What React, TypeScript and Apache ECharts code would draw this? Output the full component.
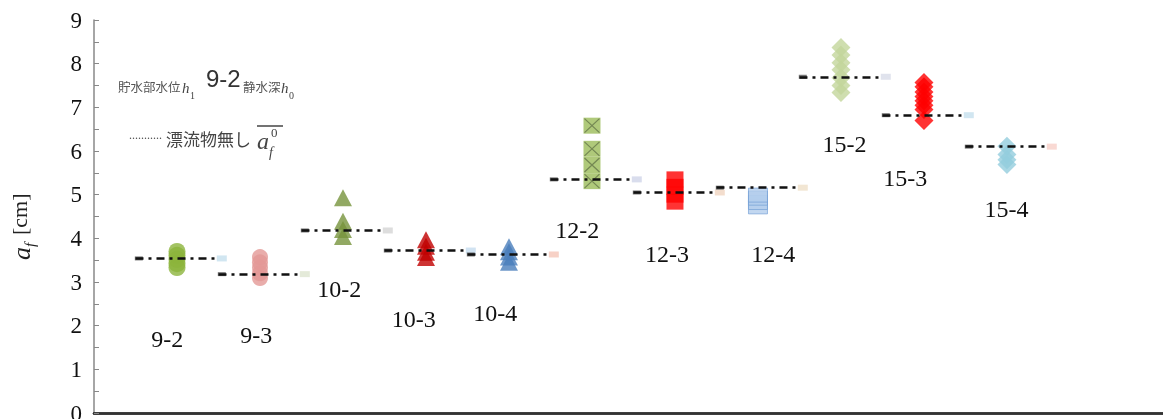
import React, { useEffect, useRef } from "react";
import * as echarts from "echarts";

const categories = ["9-2", "9-3", "10-2", "10-3", "10-4", "12-2", "12-3", "12-4", "15-2", "15-3", "15-4"];
const means = [3.54, 3.18, 4.18, 3.72, 3.63, 5.35, 5.05, 5.16, 7.7, 6.82, 6.1];
const samples = [
  [3.33, 3.42, 3.52, 3.61, 3.7],
  [3.09, 3.2, 3.33, 3.45, 3.57],
  [4.04, 4.2, 4.39, 4.93],
  [3.56, 3.68, 3.82, 3.97],
  [3.45, 3.57, 3.69, 3.81],
  [5.31, 5.68, 6.05, 6.58],
  [4.84, 5.0, 5.18, 5.35],
  [4.72, 4.82, 4.92, 4.99],
  [7.34, 7.5, 7.68, 7.86, 8.02, 8.2, 8.37],
  [6.7, 6.95, 7.05, 7.15, 7.25, 7.35, 7.47, 7.57],
  [5.69, 5.8, 5.92, 6.11],
];
const labelY = [1.68, 1.77, 2.83, 2.13, 2.29, 4.19, 3.62, 3.62, 6.14, 5.37, 4.66];
const labelDx = [-0.11, -0.04, -0.04, -0.14, -0.16, -0.17, -0.09, 0.19, 0.05, -0.22, 0];
const yTicks = [0, 1, 2, 3, 4, 5, 6, 7, 8, 9];

const colors = ["#8cb43c", "#e39896", "#77933c", "#c00000", "#4a7ebb", "#9bbb59", "#ff0000", "#b3cdec", "#c3d69b", "#ff0000", "#93cddd"];
const symbols = ["circle", "circle", "triangle", "triangle", "triangle", "rect", "rect", "rect", "diamond", "diamond", "diamond"];
const symbolSizes: any[] = [17, 16, [18, 17], [18, 17], [18, 17], [17, 16], [17, 16], [19, 14], [19, 19], [19, 19], [19, 19]];
const capColors = ["#c6e0ee", "#dde5cf", "#d4d4d4", "#c6dcef", "#f5c6b8", "#d0d4e8", "#f0d4c0", "#efe0c8", "#d8dce8", "#c6e0ee", "#f8d0c8"];

const SERIF = '"Liberation Serif", "DejaVu Serif", serif';
const CJK = '"Noto Sans CJK JP", sans-serif';

export default function App() {
  const ref = useRef<HTMLDivElement>(null);
  useEffect(() => {
    const chart = echarts.init(ref.current!, null, { renderer: "svg" });
    const sampleSeries = samples.map((vals, i) => ({
      type: "scatter",
      z: 2,
      symbol: symbols[i],
      symbolSize: symbolSizes[i],
      itemStyle:
        i === 7
          ? { color: colors[i], borderColor: "#6f9bd3", borderWidth: 0.8 }
          : { color: colors[i] },
      data: vals.map((v) => [i + 1, v]),
    }));
    const crossSeries = {
      type: "scatter",
      z: 3,
      symbol: "path://M0,0L10,10M10,0L0,10",
      symbolSize: [15, 14],
      itemStyle: { color: "transparent", borderColor: "#66784a", borderWidth: 1.2 },
      data: samples[5].map((v) => [6, v]),
    };
    const rightCaps = {
      type: "scatter",
      z: 4,
      symbol: "rect",
      symbolSize: [10, 6],
      data: means.map((m, i) => ({ value: [i + 1 + 0.54, m], itemStyle: { color: capColors[i] } })),
      markLine: {
        silent: true,
        symbol: ["none", "none"],
        label: { show: false },
        lineStyle: { type: [8, 5, 3, 5], color: "#111", width: 2.5 },
        data: means.map((m, i) => [{ coord: [i + 1 - 0.5, m] }, { coord: [i + 1 + 0.48, m] }]),
        z: 6,
      },
    };
    const leftCaps = {
      type: "scatter",
      z: 5,
      symbol: "rect",
      symbolSize: [8, 4],
      itemStyle: { color: "#555" },
      data: means.map((m, i) => [i + 1 - 0.46, m]),
    };
    const labels = {
      type: "scatter",
      z: 7,
      symbolSize: 1,
      itemStyle: { color: "rgba(0,0,0,0)" },
      label: {
        show: true,
        position: [0, 0],
        align: "center",
        verticalAlign: "middle",
        formatter: (p: any) => p.name,
        fontFamily: SERIF,
        fontSize: 24,
        color: "#111",
        opacity: 1,
        textBorderWidth: 0,
      },
      data: categories.map((c, i) => ({ name: c, value: [i + 1 + labelDx[i], labelY[i]] })),
    };

    const g: any[] = [
      { type: "text", left: 118, top: 80, style: { text: "貯水部水位", font: `12.5px ${CJK}`, fill: "#555" } },
      { type: "text", x: 182, y: 88, style: { text: "h", font: `italic 15px ${SERIF}`, fill: "#444", verticalAlign: "middle" } },
      { type: "text", x: 190, y: 95, style: { text: "1", font: `10px ${SERIF}`, fill: "#444", verticalAlign: "middle" } },
      { type: "text", x: 206, y: 78, style: { text: "9-2", font: `24px "Liberation Sans", sans-serif`, fill: "#333", verticalAlign: "middle" } },
      { type: "text", left: 243, top: 80, style: { text: "静水深", font: `12.5px ${CJK}`, fill: "#555" } },
      { type: "text", x: 281, y: 88, style: { text: "h", font: `italic 15px ${SERIF}`, fill: "#444", verticalAlign: "middle" } },
      { type: "text", x: 289, y: 95, style: { text: "0", font: `10px ${SERIF}`, fill: "#444", verticalAlign: "middle" } },
      { type: "text", x: 129, y: 141, style: { text: "...........", font: `12px ${SERIF}`, fill: "#555", verticalAlign: "bottom" } },
      { type: "text", x: 166, y: 138, style: { text: "漂流物無し", font: `17px ${CJK}`, fill: "#444", verticalAlign: "middle" } },
      { type: "text", x: 257, y: 141, style: { text: "a", font: `italic 24px ${SERIF}`, fill: "#444", verticalAlign: "middle" } },
      { type: "text", x: 269, y: 152, style: { text: "f", font: `italic 14px ${SERIF}`, fill: "#444", verticalAlign: "middle" } },
      { type: "text", x: 271, y: 132, style: { text: "0", font: `13px ${SERIF}`, fill: "#444", verticalAlign: "middle" } },
      { type: "line", shape: { x1: 257, y1: 126, x2: 283, y2: 126 }, style: { stroke: "#444", lineWidth: 1.5 } },
      {
        type: "group",
        x: 21,
        y: 260,
        rotation: Math.PI / 2,
        children: [
          { type: "text", x: 0, y: 0, style: { text: "a", font: `italic 26px ${SERIF}`, fill: "#222", verticalAlign: "middle" } },
          { type: "text", x: 13, y: 9, style: { text: "f", font: `italic 15px ${SERIF}`, fill: "#222", verticalAlign: "middle" } },
          { type: "text", x: 25, y: -2, style: { text: "[cm]", font: `22px ${SERIF}`, fill: "#222", verticalAlign: "middle" } },
        ],
      },
    ];

    chart.setOption({
      animation: false,
      grid: { left: 94, right: 0, top: 20, bottom: 6, outerBoundsMode: "none", containLabel: false },
      xAxis: [
        {
          type: "value",
          min: 0,
          max: 12.88,
          axisLine: { show: true, onZero: false, lineStyle: { color: "#333", width: 2.5 } },
          axisTick: { show: false },
          axisLabel: { show: false },
          splitLine: { show: false },
        },
        {
          type: "value",
          position: "top",
          min: 0,
          max: 12.88,
          axisLine: { show: true, lineStyle: { color: "#333", width: 2.5 } },
          axisTick: { show: false },
          axisLabel: { show: false },
          splitLine: { show: false },
        },
      ],
      yAxis: {
        type: "value",
        min: yTicks[0],
        max: yTicks[yTicks.length - 1],
        interval: 1,
        axisLine: { show: true, lineStyle: { color: "#888", width: 1.5 } },
        axisTick: { show: true, inside: true, length: 5, lineStyle: { color: "#888" } },
        minorTick: { show: true, splitNumber: 2, length: 5, lineStyle: { color: "#888" } },
        axisLabel: { fontFamily: SERIF, fontSize: 23, color: "#111", margin: 12 },
        splitLine: { show: false },
      },
      graphic: g,
      series: [...sampleSeries, crossSeries, rightCaps, leftCaps, labels],
    });
    return () => chart.dispose();
  }, []);
  return <div ref={ref} style={{ position: "fixed", left: 0, top: 0, width: 1163, height: 419 }} />;
}
